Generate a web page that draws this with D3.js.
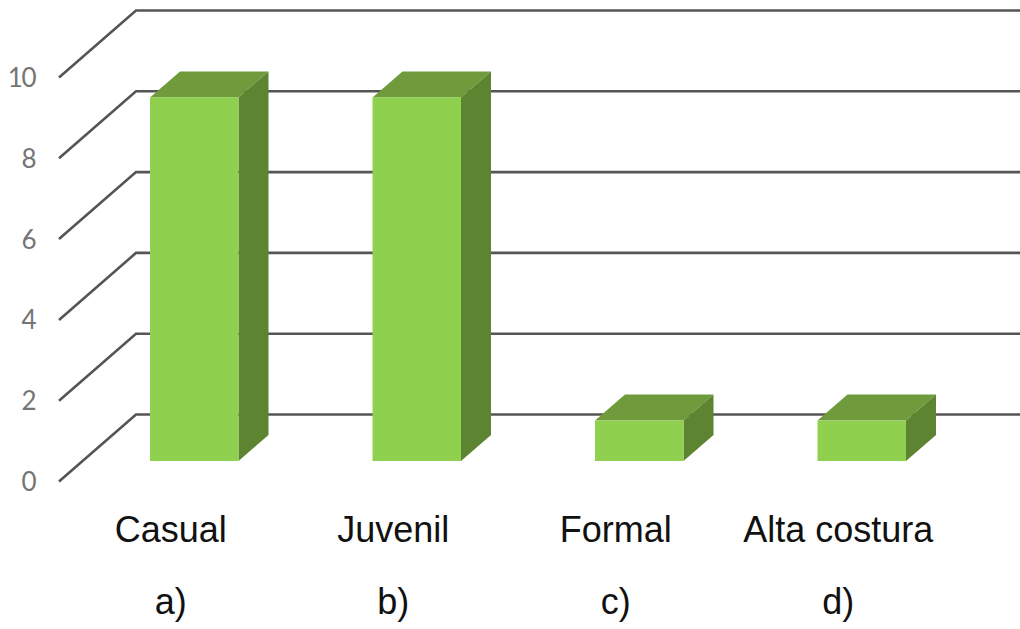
<!DOCTYPE html>
<html><head><meta charset="utf-8">
<script src="https://cdn.jsdelivr.net/npm/d3@7"></script>
<style>html,body{margin:0;padding:0;background:#fff;overflow:hidden}</style></head>
<body><script>
const categories=["Casual","Juvenil","Formal","Alta costura"];
const panelLetters=["a)","b)","c)","d)"];
const values=[9,9,1,1];
const yTicks=[0,2,4,6,8,10];
const W=1020,H=629;
const svg=d3.select("body").append("svg").attr("width",W).attr("height",H).style("display","block");
const y=d3.scaleLinear().domain([0,10]).range([481.5,77.5]);
const x=d3.scaleBand().domain(categories).range([83,973]).paddingInner(0.6).paddingOuter(0.3);
const floorDx=77,floorDy=-67,barDx=30,barDy=-26,barBaseShift=-20.5;
const bw=88.5;
const bandCenter=c=>x(c)+x.bandwidth()/2;
const line=d3.line();
// grid
svg.append("g").selectAll("path").data(yTicks).join("path")
  .attr("d",t=>line([[59,y(t)],[59+floorDx,y(t)+floorDy],[W,y(t)+floorDy]]))
  .attr("fill","none").attr("stroke","#555").attr("stroke-width",2.6).attr("stroke-linejoin","miter");
// tick labels
svg.append("g").selectAll("text").data(yTicks).join("text")
  .attr("x",35).attr("y",t=>y(t)+9.5).attr("text-anchor","end")
  .attr("font-family","Lato").attr("font-size",26).attr("letter-spacing",-1.5).attr("fill","#757575").text(t=>t);
// bars
const bars=svg.append("g").selectAll("g").data(categories).join("g");
const L=c=>bandCenter(c)-bw/2,R=c=>bandCenter(c)+bw/2;
const val=(c)=>values[categories.indexOf(c)];
const yb=y(0)+barBaseShift;
const yt=c=>y(val(c))+barBaseShift;
bars.append("path").attr("fill","#6f9b3c").attr("d",c=>line([[L(c),yt(c)],[L(c)+barDx,yt(c)+barDy],[R(c)+barDx,yt(c)+barDy],[R(c),yt(c)]])+"Z");
bars.append("path").attr("fill","#5d8430").attr("d",c=>line([[R(c),yt(c)],[R(c)+barDx,yt(c)+barDy],[R(c)+barDx,yb+barDy],[R(c),yb]])+"Z");
bars.append("rect").attr("x",L).attr("y",yt).attr("width",bw).attr("height",c=>yb-yt(c)).attr("fill","#8fd14f");
// category labels
svg.append("g").selectAll("text").data(categories).join("text")
  .attr("x",c=>bandCenter(c)-23.5).attr("y",542).attr("text-anchor","middle")
  .attr("font-family","Liberation Sans").attr("font-size",36).attr("fill","#111").text(c=>c);
svg.append("g").selectAll("text").data(panelLetters).join("text")
  .attr("x",(d,i)=>bandCenter(categories[i])-23.5).attr("y",614).attr("text-anchor","middle")
  .attr("font-family","Liberation Sans").attr("font-size",36).attr("fill","#111").text(d=>d);
</script></body></html>
